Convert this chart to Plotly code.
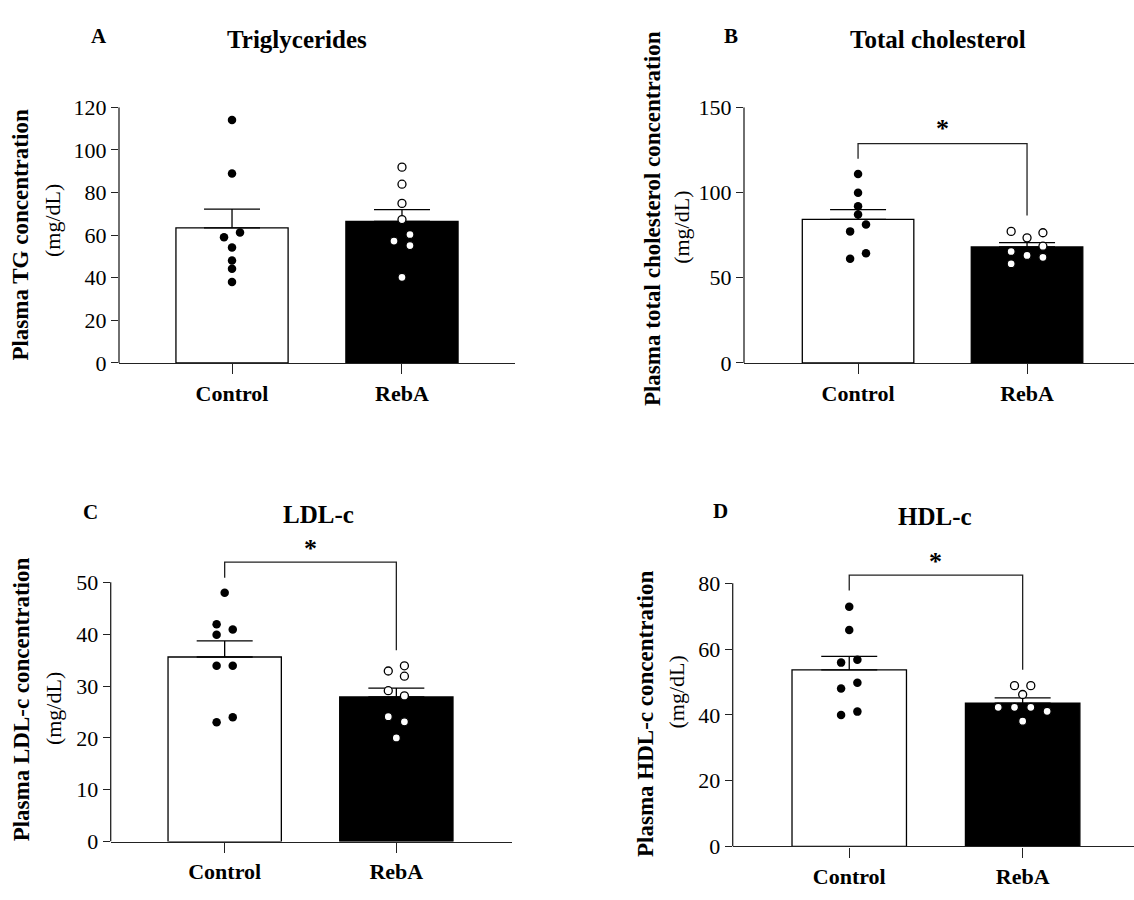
import plotly.graph_objects as go

W, H = 1134, 900
FONT = "Liberation Serif, Times New Roman, serif"

groups = ["Control", "RebA"]

# ---- data ----
tg_control = [114.0, 88.9, 61.2, 59.0, 54.2, 48.1, 44.2, 38.0]
tg_reba = [91.9, 83.9, 74.9, 67.3, 60.3, 57.2, 55.1, 40.2]
tg_mean = [63.4, 66.4]
tg_sem = [8.8, 5.6]

tc_control = [110.8, 99.8, 92.0, 87.1, 81.2, 77.2, 64.3, 61.2]
tc_reba = [77.2, 76.4, 73.4, 68.5, 65.4, 63.1, 62.0, 58.2]
tc_mean = [84.2, 68.1]
tc_sem = [5.8, 2.5]

ldl_control = [48.0, 41.9, 40.9, 39.9, 33.9, 33.9, 24.0, 23.0]
ldl_reba = [33.9, 32.9, 31.9, 29.1, 28.1, 24.1, 23.1, 20.0]
ldl_mean = [35.6, 27.9]
ldl_sem = [3.1, 1.7]

hdl_control = [72.9, 65.8, 56.8, 55.9, 49.8, 48.0, 41.0, 40.0]
hdl_reba = [48.9, 48.9, 46.2, 42.3, 42.3, 42.3, 41.1, 38.1]
hdl_mean = [53.7, 43.6]
hdl_sem = [4.1, 1.6]

# significance brackets: [left end, top, right end]
tc_bracket = [119.8, 128.7, 86.5]
ldl_bracket = [50.9, 53.9, 36.9]
hdl_bracket = [77.8, 82.5, 53.7]

# ---- layout-only values (point spread, in jitter steps) ----
STEP = 0.047
off = {
    "tg": ([0, 0, 1, -1, 0, 0, 0, 0], [0, 0, 0, 0, 1, -1, 1, 0]),
    "tc": ([0, 0, 0, 0, 1, -1, 1, -1], [-2, 2, 0, 2, -2, 0, 2, -2]),
    "ldl": ([0, -1, 1, -1, -1, 1, 1, -1], [1, -1, 1, -1, 1, -1, 1, 0]),
    "hdl": ([0, 0, 1, -1, 1, -1, 1, -1], [-1, 1, 0, -3, -1, 1, 3, 0]),
}

def px_x(p):
    return p / W

def px_y(p):
    return 1 - p / H

panels = [
    dict(key="tg", n=1, ctrl=tg_control, reba=tg_reba, mean=tg_mean, sem=tg_sem,
         ticks=[0, 20, 40, 60, 80, 100, 120], axis_top=120, yr=[0, 120],
         xdom=[px_x(119), px_x(515)], ydom=[px_y(361), px_y(98)], xr=[-0.665, 1.665],
         bracket=None),
    dict(key="tc", n=2, ctrl=tc_control, reba=tc_reba, mean=tc_mean, sem=tc_sem,
         ticks=[0, 50, 100, 150], axis_top=150, yr=[0, 150],
         xdom=[px_x(744), 1.0], ydom=[px_y(361), px_y(98)], xr=[-0.675, 1.633],
         bracket=tc_bracket, star=137.5),
    dict(key="ldl", n=3, ctrl=ldl_control, reba=ldl_reba, mean=ldl_mean, sem=ldl_sem,
         ticks=[0, 10, 20, 30, 40, 50], axis_top=50, yr=[0, 60],
         xdom=[px_x(110.7), px_x(511.7)], ydom=[px_y(853.3), px_y(533.3)], xr=[-0.664, 1.672],
         bracket=ldl_bracket, star=56.6),
    dict(key="hdl", n=4, ctrl=hdl_control, reba=hdl_reba, mean=hdl_mean, sem=hdl_sem,
         ticks=[0, 20, 40, 60, 80], axis_top=80, yr=[0, 92],
         xdom=[px_x(732.7), 1.0], ydom=[px_y(858.3), px_y(547.1)], xr=[-0.672, 1.642],
         bracket=hdl_bracket, star=86.6),
]

fig = go.Figure()
layout = dict(
    width=W, height=H, margin=dict(l=0, r=0, t=0, b=0),
    paper_bgcolor="white", plot_bgcolor="white", showlegend=False,
    font=dict(family=FONT, color="black", size=20),
)
shapes = []
annotations = []
LINE = "#222222"

for p in panels:
    n = p["n"]
    xa = "x" if n == 1 else f"x{n}"
    ya = "y" if n == 1 else f"y{n}"
    xk = "xaxis" if n == 1 else f"xaxis{n}"
    yk = "yaxis" if n == 1 else f"yaxis{n}"

    fig.add_trace(go.Bar(
        x=[0, 1], y=p["mean"], width=0.66, xaxis=xa, yaxis=ya,
        marker=dict(color=["white", "black"], line=dict(color="black", width=1.3)),
        error_y=dict(type="data", array=p["sem"], arrayminus=[0, 0], symmetric=False,
                     width=28, thickness=1.3, color="black"),
        hoverinfo="skip",
    ))
    oc, orb = off[p["key"]]
    fig.add_trace(go.Scatter(
        x=[0 + o * STEP for o in oc], y=p["ctrl"], mode="markers", xaxis=xa, yaxis=ya,
        marker=dict(size=8.5, color="black", line=dict(width=0)), cliponaxis=False,
    ))
    fig.add_trace(go.Scatter(
        x=[1 + o * STEP for o in orb], y=p["reba"], mode="markers", xaxis=xa, yaxis=ya,
        marker=dict(size=8, color="white", line=dict(color="black", width=1.3)), cliponaxis=False,
    ))
    if p["bracket"]:
        b = p["bracket"]
        fig.add_trace(go.Scatter(
            x=[0, 0, 1, 1], y=[b[0], b[1], b[1], b[2]], mode="lines", xaxis=xa, yaxis=ya,
            line=dict(color=LINE, width=1.3), hoverinfo="skip",
        ))
        annotations.append(dict(
            x=0.5, y=p["star"], xref=xa, yref=ya, text="<b>*</b>", showarrow=False,
            font=dict(size=26, family=FONT), yanchor="middle",
        ))

    layout[xk] = dict(
        domain=p["xdom"], range=p["xr"], anchor=ya,
        tickvals=[0, 1], ticktext=[f"<b>{g}</b>" for g in groups],
        ticks="outside", ticklen=10, tickwidth=1.3, tickcolor=LINE,
        showline=True, linecolor=LINE, linewidth=1.3, showgrid=False, zeroline=False,
        tickfont=dict(size=22, family=FONT), fixedrange=True,
    )
    layout[yk] = dict(
        domain=p["ydom"], range=p["yr"], anchor=xa,
        tickvals=p["ticks"], ticks="outside", ticklen=7, tickwidth=1.3, tickcolor=LINE,
        showline=False, showgrid=False, zeroline=False,
        tickfont=dict(size=22, family=FONT), fixedrange=True,
    )
    shapes.append(dict(
        type="line", xref=f"{xa} domain", yref=ya, x0=0, x1=0, y0=0, y1=p["axis_top"],
        line=dict(color=LINE, width=1.3),
    ))

# titles and panel letters
texts = [
    ("A", 99, 25, 21, True, 0), ("Triglycerides", 297, 28, 25, True, 0),
    ("B", 731, 25, 21, True, 0), ("Total cholesterol", 938, 28, 25, True, 0),
    ("C", 90, 514, 21, True, 0), ("LDL-c", 318, 517, 25, True, 0),
    ("D", 720, 513, 21, True, 0), ("HDL-c", 935, 519, 25, True, 0),
    # y-axis titles
    ("Plasma TG concentration", 21, 230, 23, True, -90), ("(mg/dL)", 52, 215, 22, False, -90),
    ("Plasma total cholesterol concentration", 652, 213, 23, True, -90), ("(mg/dL)", 682, 222, 22, False, -90),
    ("Plasma LDL-c concentration", 21, 707, 23, True, -90), ("(mg/dL)", 53, 717, 22, False, -90),
    ("Plasma HDL-c concentration", 646, 722, 23, True, -90), ("(mg/dL)", 677, 700, 22, False, -90),
]
for t, x, y, s, bold, ang in texts:
    annotations.append(dict(
        x=px_x(x), y=px_y(y), xref="paper", yref="paper", xanchor="center", yanchor="middle",
        text=f"<b>{t}</b>" if bold else t, showarrow=False, textangle=ang,
        font=dict(size=s, family=FONT, color="black"),
    ))

layout["shapes"] = shapes
layout["annotations"] = annotations
fig.update_layout(**layout)
fig.write_html("out.html")
